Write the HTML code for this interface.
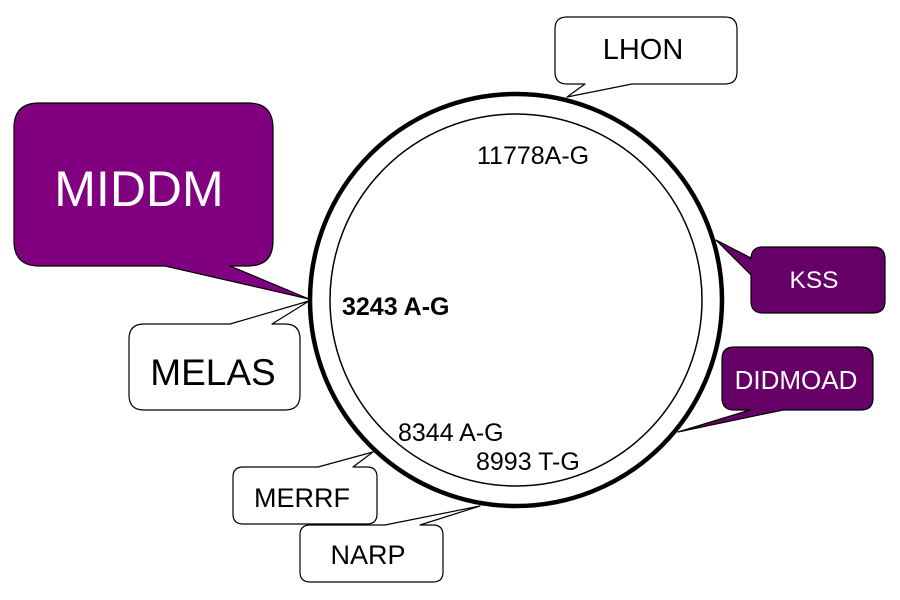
<!DOCTYPE html>
<html><head><meta charset="utf-8"><style>body{margin:0;background:#fff}svg{display:block}text{font-family:"Liberation Sans",Arial,sans-serif}</style></head><body>
<svg width="900" height="600" viewBox="0 0 900 600" xmlns="http://www.w3.org/2000/svg">
<rect width="900" height="600" fill="#fff"/>
<circle cx="516" cy="300" r="206" fill="#fff" stroke="#000" stroke-width="4.5"/>
<circle cx="516" cy="300" r="186" fill="none" stroke="#000" stroke-width="1.5"/>
<g stroke="#000" stroke-width="1.2" stroke-linejoin="round">
<path d="M39,103 H248 Q273,103 273,128 V241 Q273,266 248,266 H230 L309,299 L165,266 H39 Q14,266 14,241 V128 Q14,103 39,103 Z" fill="#800080"/>
<path d="M144,324 H230 L309,301 L272,324 H285 Q300,324 300,339 V395 Q300,410 285,410 H144 Q129,410 129,395 V339 Q129,324 144,324 Z" fill="#fff"/>
<path d="M567,17 H725 Q737,17 737,29 V72 Q737,84 725,84 H632 L567,97 L585,84 H567 Q555,84 555,72 V29 Q555,17 567,17 Z" fill="#fff"/>
<path d="M763,247 H873 Q885,247 885,259 V301 Q885,313 873,313 H763 Q751,313 751,301 V275 L716,240 L751,258 V259 Q751,247 763,247 Z" fill="#660066"/>
<path d="M734,347 H861 Q873,347 873,359 V398 Q873,410 861,410 H783 L678,432 L750,410 H734 Q722,410 722,398 V359 Q722,347 734,347 Z" fill="#660066"/>
<path d="M243,467 H318 L373,452 L353,467 H367 Q377,467 377,477 V514 Q377,524 367,524 H243 Q233,524 233,514 V477 Q233,467 243,467 Z" fill="#fff"/>
<path d="M310,525 H385 L480,506 L420,525 H433 Q443,525 443,535 V572 Q443,582 433,582 H310 Q300,582 300,572 V535 Q300,525 310,525 Z" fill="#fff"/>
</g>
<text x="139" y="206" font-size="50" fill="#fff" text-anchor="middle">MIDDM</text>
<text x="213" y="385" font-size="37" fill="#000" text-anchor="middle">MELAS</text>
<text x="643" y="59" font-size="29" fill="#000" text-anchor="middle">LHON</text>
<text x="814" y="288" font-size="24.5" fill="#fff" text-anchor="middle">KSS</text>
<text x="796" y="389" font-size="26" fill="#fff" text-anchor="middle">DIDMOAD</text>
<text x="302" y="507" font-size="27" fill="#000" text-anchor="middle">MERRF</text>
<text x="368" y="564" font-size="27" fill="#000" text-anchor="middle">NARP</text>
<text x="477" y="164" font-size="25" fill="#000">11778A-G</text>
<text x="342" y="315" font-size="25" font-weight="bold" fill="#000">3243 A-G</text>
<text x="398" y="441" font-size="25" fill="#000">8344 A-G</text>
<text x="476" y="470" font-size="25" fill="#000">8993 T-G</text>
</svg>
</body></html>
